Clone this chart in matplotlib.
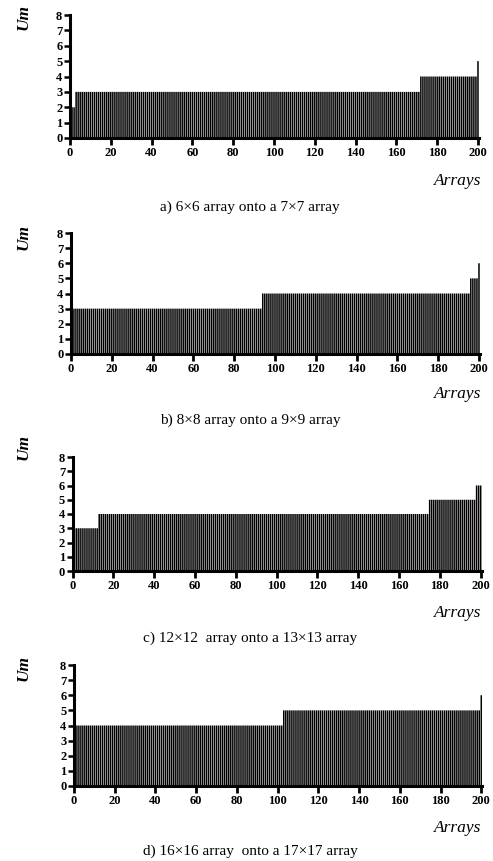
import matplotlib
matplotlib.use("Agg")
import matplotlib.pyplot as plt
import numpy as np

# Um per array, read as runs of equal value (levels, run lengths)
arrays = np.arange(1, 201)
um_a_levels = [2, 3, 4, 5]
um_a_counts = [2, 169, 28, 1]
um_b_levels = [3, 4, 5, 6]
um_b_counts = [93, 102, 4, 1]
um_c_levels = [3, 4, 5, 6]
um_c_counts = [12, 162, 23, 3]
um_d_levels = [4, 5, 6]
um_d_counts = [102, 97, 1]

captions = [
    "a) 6\u00d76 array onto a 7\u00d77 array",
    "b) 8\u00d78 array onto a 9\u00d79 array",
    "c) 12\u00d712  array onto a 13\u00d713 array",
    "d) 16\u00d716 array  onto a 17\u00d717 array",
]
x_ticks = [0, 20, 40, 60, 80, 100, 120, 140, 160, 180, 200]
y_ticks = [0, 1, 2, 3, 4, 5, 6, 7, 8]

W, H = 493, 861
fig = plt.figure(figsize=(W / 100, H / 100), dpi=100)
serif = "Liberation Serif"

# pixel boxes: left, right, top(y=8), bottom(y=0)
boxes = [(70, 479, 15, 138), (71, 480, 233, 354), (72.7, 481.7, 457, 571), (74, 482.3, 665, 786)]
arrays_y = [181, 394, 613, 828]
caption_y = [207, 420, 638, 851]
um_y = [17, 237, 447, 668]

series = [
    (um_a_levels, um_a_counts),
    (um_b_levels, um_b_counts),
    (um_c_levels, um_c_counts),
    (um_d_levels, um_d_counts),
]

for i, (levels, counts) in enumerate(series):
    l, r, t, b = boxes[i]
    ax = fig.add_axes([l / W, 1 - b / H, (r - l) / W, (b - t) / H])
    um = np.repeat(levels, counts)
    bars = ax.bar(arrays, um, width=0.75, color="black", linewidth=0)
    for p in bars:
        p.set_snap(False)
    ax.set_xlim(0, 200.5)
    ax.set_ylim(0, 8)
    ax.set_xticks(x_ticks)
    ax.set_yticks(y_ticks)
    for s in ["top", "right"]:
        ax.spines[s].set_visible(False)
    for s in ["left", "bottom"]:
        ax.spines[s].set_linewidth(2.2)
    ax.tick_params(axis="x", direction="out", width=2, length=5, pad=1.5)
    ax.tick_params(axis="y", direction="out", width=1.8, length=4, pad=1.5)
    for lab in ax.get_xticklabels() + ax.get_yticklabels():
        lab.set_fontfamily(serif)
        lab.set_fontweight("bold")
        lab.set_fontsize(9)
    fig.text(481 / W, 1 - arrays_y[i] / H, "Arrays", ha="right", va="center",
             family=serif, style="italic", fontsize=12.5)
    fig.text(250 / W, 1 - caption_y[i] / H, captions[i], ha="center", va="center",
             family=serif, fontsize=11)
    fig.text(24 / W, 1 - um_y[i] / H, "Um", ha="center", va="center", rotation=90,
             family=serif, style="italic", fontweight="bold", fontsize=12.5)

fig.savefig("out.png", dpi=100)
